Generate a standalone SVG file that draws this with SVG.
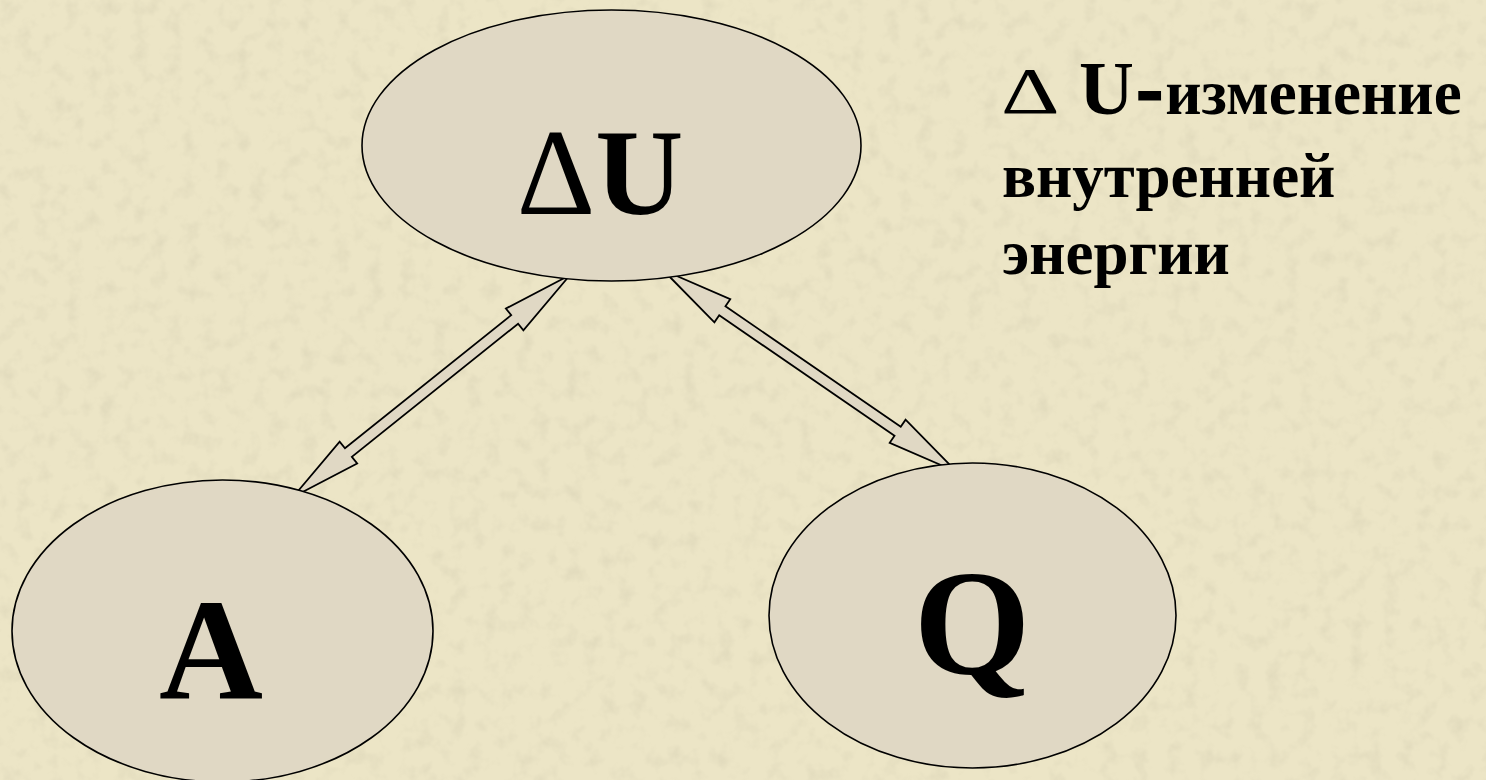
<svg xmlns="http://www.w3.org/2000/svg" width="1486" height="780" viewBox="0 0 1486 780">
  <style>
    .node { fill: #e0d8c4; stroke: #000; stroke-width: 1.6; }
    .big { font-family: "Liberation Serif", "Times New Roman", serif; font-weight: bold; fill: #000; text-anchor: middle; }
    .note { font-family: "Liberation Serif", "Times New Roman", serif; font-weight: bold; fill: #000; font-size: 63px; }
    .delta { font-family: "Liberation Serif", "Times New Roman", serif; font-weight: normal; fill: #000; }
    .arrow { fill: #e0d8c4; stroke: #000; stroke-width: 1.8; stroke-linejoin: miter; }
  </style>
  <defs>
    <filter id="paper" x="0" y="0" width="100%" height="100%">
      <feTurbulence type="fractalNoise" baseFrequency="0.06" numOctaves="3" seed="4" result="n"/>
      <feColorMatrix in="n" type="matrix" values="0 0 0 0 0.45  0 0 0 0 0.42  0 0 0 0 0.30  0 0 0 -1.2 0.62"/>
    </filter>
  </defs>

  <!-- paper background -->
  <rect width="1486" height="780" fill="#ece5c6"/>
  <rect width="1486" height="780" filter="url(#paper)" opacity="0.35"/>

  <!-- connectors: double-headed block arrows -->
  <g id="connectors">
    <polygon class="arrow" transform="translate(293,497) rotate(-38.7)"
      points="0,0 71,-14 71,-5.5 284,-5.5 284,-14 355,0 284,14 284,5.5 71,5.5 71,14"/>
    <polygon class="arrow" transform="translate(663,270) rotate(34.5)"
      points="0,0 72,-14 72,-5.5 284.7,-5.5 284.7,-14 356.7,0 284.7,14 284.7,5.5 72,5.5 72,14"/>
  </g>

  <g id="node-dU">
    <ellipse class="node" cx="611.5" cy="145.5" rx="249.5" ry="135.5"/>
    <text class="big" x="600" y="214" font-size="122"><tspan font-weight="normal">Δ</tspan>U</text>
  </g>

  <g id="node-A">
    <ellipse class="node" cx="222.5" cy="631" rx="210.5" ry="151"/>
    <text class="big" x="211" y="699" font-size="144">A</text>
  </g>

  <g id="node-Q">
    <ellipse class="node" cx="972.5" cy="615.5" rx="203.5" ry="152.5"/>
    <text class="big" x="972" y="674" font-size="150">Q</text>
  </g>

  <g id="legend">
    <text class="delta" transform="translate(1001,113) scale(1.38,1)" font-size="66">Δ</text>
    <text class="note" x="1079" y="114"><tspan font-size="76">U</tspan><tspan font-size="76" dx="3" stroke="#000" stroke-width="3">-</tspan><tspan dx="3">изменение</tspan></text>
    <text class="note" x="1002" y="197">внутренней</text>
    <text class="note" x="1002" y="274">энергии</text>
  </g>
</svg>
